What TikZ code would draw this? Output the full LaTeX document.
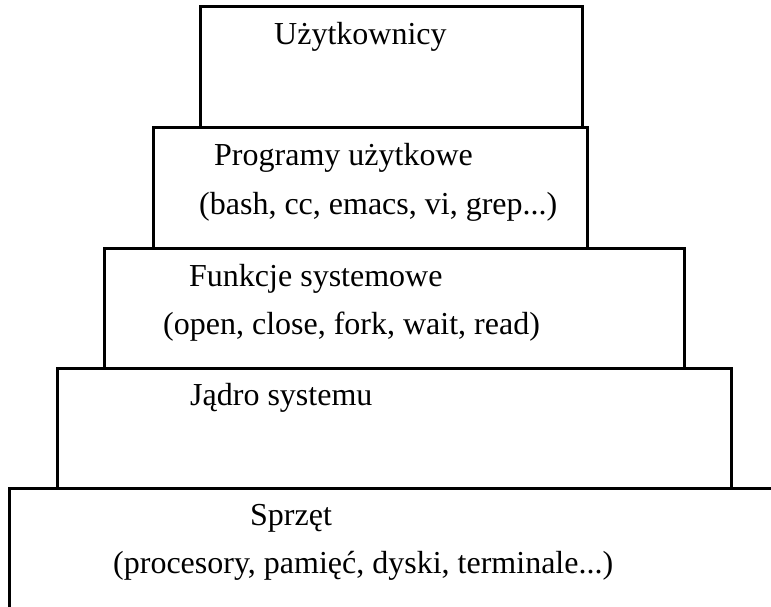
\documentclass[tikz,border=0pt]{standalone}
\usepackage{fontspec}
\setmainfont{Liberation Serif}
\begin{document}
\begin{tikzpicture}[x=1pt,y=-1pt,
  layer/.style={draw=black,line width=3pt,fill=none},
  label/.style={anchor=base west,inner sep=0pt,font=\fontsize{32}{38}\selectfont}]
\useasboundingbox (0,0) rectangle (771,607);
% stacked layers, top to bottom
\draw[layer] (200,7) rectangle (582,128);
\draw[layer] (153,128) rectangle (587,248);
\draw[layer] (104,248) rectangle (684,368);
\draw[layer] (57,368) rectangle (731,488);
\draw[layer] (9,607) -- (9,488) -- (771,488);
% layer captions
\node[label] (users) at (274,45) {Użytkownicy};
\node[label] (apps) at (214,165) {Programy użytkowe};
\node[label] (appsex) at (199,214) {(bash, cc, emacs, vi, grep...)};
\node[label] (sys) at (189,286) {Funkcje systemowe};
\node[label] (sysex) at (163,334) {(open, close, fork, wait, read)};
\node[label] (kern) at (190,405) {Jądro systemu};
\node[label] (hw) at (250,525) {Sprzęt};
\node[label] (hwex) at (113,573) {(procesory, pamięć, dyski, terminale...)};
\end{tikzpicture}
\end{document}
